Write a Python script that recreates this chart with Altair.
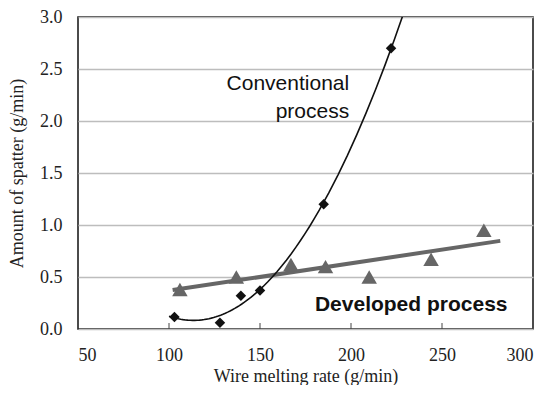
import altair as alt
import pandas as pd

conv_x = [103, 128, 139.5, 150, 185, 222]
conv_y = [0.115, 0.06, 0.32, 0.37, 1.20, 2.70]
dev_x = [106, 137, 167, 186, 210, 244, 273]
dev_y = [0.38, 0.50, 0.62, 0.60, 0.50, 0.67, 0.95]
x_ticks = [50, 100, 150, 200, 250, 300]
y_ticks = [0.0, 0.5, 1.0, 1.5, 2.0, 2.5, 3.0]
inner_ticks = [100, 150, 200, 250]

conv = pd.DataFrame({"x": conv_x, "y": conv_y})
dev = pd.DataFrame({"x": dev_x, "y": dev_y})
ticks = pd.DataFrame({"x": inner_ticks})
conv_lab = pd.DataFrame({"x": [199, 199], "y": [2.36, 2.09], "t": ["Conventional", "process"]})
dev_lab = pd.DataFrame({"x": [286], "y": [0.23], "t": ["Developed process"]})

W, H = 455, 312
xs = alt.Scale(domain=[50, 300], nice=False)
ys = alt.Scale(domain=[0, 3], nice=False)
SERIF = "Liberation Serif"

xaxis = alt.Axis(
    title="Wire melting rate (g/min)", values=x_ticks, grid=False, ticks=False,
    domain=False, labelPadding=17, titlePadding=3,
    labelFont=SERIF, labelFontSize=18, labelColor="#222",
    titleFont=SERIF, titleFontSize=18, titleFontWeight="normal", titleColor="#222")
yaxis = alt.Axis(
    title="Amount of spatter (g/min)", values=y_ticks, format=".1f", grid=True,
    gridColor="#bdbdbd", gridWidth=1.5, ticks=False, domain=False,
    labelPadding=16, titlePadding=13,
    labelFont=SERIF, labelFontSize=18, labelColor="#222",
    titleFont=SERIF, titleFontSize=18, titleFontWeight="normal", titleColor="#222")

X = alt.X("x:Q", scale=xs, axis=xaxis)
Y = alt.Y("y:Q", scale=ys, axis=yaxis)

dev_line = alt.Chart(dev).transform_regression(
    "x", "y", method="linear", extent=[102, 282]
).mark_line(color="#666666", strokeWidth=4).encode(x=X, y=Y)

dev_pts = alt.Chart(dev).mark_point(
    shape="triangle-up", filled=True, color="#666666", size=240, opacity=1
).encode(x=X, y=Y)

conv_line = alt.Chart(conv).transform_regression(
    "x", "y", method="poly", order=2, extent=[100, 229]
).mark_line(color="#111111", strokeWidth=1.6, clip=True).encode(x=X, y=Y)

conv_pts = alt.Chart(conv).mark_point(
    shape="diamond", filled=True, color="#111111", size=110, opacity=1
).encode(x=X, y=Y)

tick_marks = alt.Chart(ticks).mark_rule(color="#444", strokeWidth=1).encode(
    x=X, y=alt.value(H), y2=alt.value(H - 6))

conv_text = alt.Chart(conv_lab).mark_text(
    align="right", baseline="middle", font="Liberation Sans", fontSize=21, color="#111"
).encode(x=X, y=Y, text="t:N")

dev_text = alt.Chart(dev_lab).mark_text(
    align="right", baseline="middle", font="Liberation Sans", fontSize=21,
    fontWeight="bold", color="#111"
).encode(x=X, y=Y, text="t:N")

chart = alt.layer(dev_line, dev_pts, conv_line, conv_pts, tick_marks,
                  conv_text, dev_text).properties(
    width=W, height=H,
    background="white",
    autosize=alt.AutoSizeParams(type="none"),
    padding={"left": 70, "top": 9, "right": 6, "bottom": 56},
).configure_view(stroke="#111", strokeWidth=1.5)

chart.save("out.html", embed_options={"renderer": "svg", "actions": False})
